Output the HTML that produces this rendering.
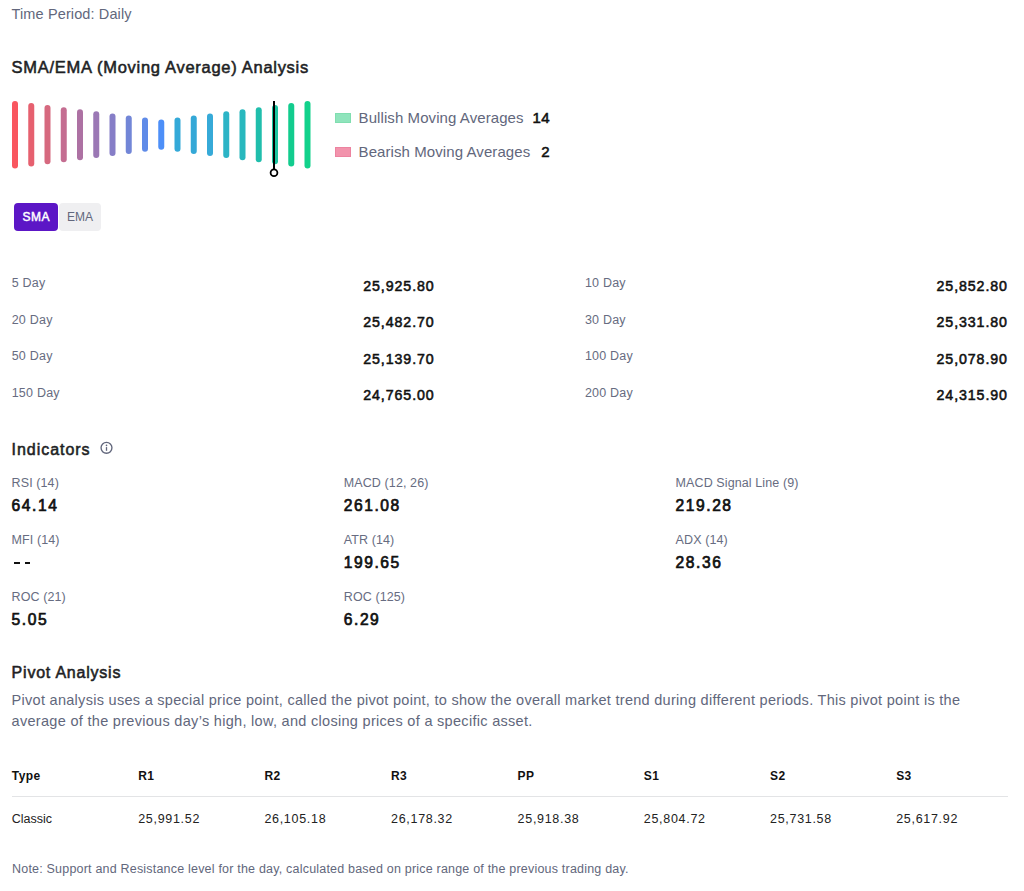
<!DOCTYPE html>
<html><head><meta charset="utf-8">
<style>
*{margin:0;padding:0;box-sizing:border-box}
html,body{width:1024px;height:891px;background:#fff;overflow:hidden}
body{position:relative;font-family:"Liberation Sans",sans-serif;color:#111}
.t{position:absolute;line-height:1;white-space:nowrap}
.sb{font-weight:400!important;-webkit-text-stroke:0.55px currentColor}
.g{color:#62677C}
.h{color:#1E1F25;font-weight:700}
.lbl{font-size:12.5px;color:#676C81;letter-spacing:0.22px}
.val{font-size:14.2px;font-weight:700;color:#111;letter-spacing:0.92px}
.il{font-size:12.5px;color:#676C81;letter-spacing:0.1px}
.iv{font-size:15.6px;font-weight:700;color:#111;letter-spacing:1.55px;-webkit-text-stroke:0.7px #111!important}
.th{font-size:12px;font-weight:700;color:#111;letter-spacing:0.4px}
.td{font-size:12.5px;color:#222;letter-spacing:0.7px}
</style></head><body>
<div class="t g" style="left:11.6px;top:7.13px;font-size:14.5px;letter-spacing:0.12px">Time Period: Daily</div>
<div class="t h sb" style="left:11.6px;top:58.83px;font-size:16.5px;letter-spacing:0.71px">SMA/EMA (Moving Average) Analysis</div>
<svg style="position:absolute;left:0;top:0" width="330" height="185" viewBox="0 0 330 185">
<g stroke-width="6" stroke-linecap="round">
<line x1="15.00" y1="103.90" x2="15.00" y2="165.50" stroke="#F9565F"/>
<line x1="31.25" y1="105.98" x2="31.25" y2="163.42" stroke="#E6606F"/>
<line x1="47.50" y1="108.06" x2="47.50" y2="161.34" stroke="#D6697F"/>
<line x1="63.75" y1="110.14" x2="63.75" y2="159.26" stroke="#C46D91"/>
<line x1="80.00" y1="112.22" x2="80.00" y2="157.18" stroke="#AD71A3"/>
<line x1="96.25" y1="114.30" x2="96.25" y2="155.10" stroke="#9B78B5"/>
<line x1="112.50" y1="116.38" x2="112.50" y2="153.02" stroke="#867EC7"/>
<line x1="128.75" y1="118.46" x2="128.75" y2="150.94" stroke="#7286D7"/>
<line x1="145.00" y1="120.54" x2="145.00" y2="148.86" stroke="#5F8BE8"/>
<line x1="161.25" y1="122.62" x2="161.25" y2="146.78" stroke="#4D8FF8"/>
<line x1="177.50" y1="120.54" x2="177.50" y2="148.86" stroke="#34A9D8"/>
<line x1="193.75" y1="118.46" x2="193.75" y2="150.94" stroke="#34A8D7"/>
<line x1="210.00" y1="116.38" x2="210.00" y2="153.02" stroke="#36AAD8"/>
<line x1="226.25" y1="114.30" x2="226.25" y2="155.10" stroke="#2CB4C6"/>
<line x1="242.50" y1="112.22" x2="242.50" y2="157.18" stroke="#28B8BE"/>
<line x1="258.75" y1="110.14" x2="258.75" y2="159.26" stroke="#20BEAC"/>
<line x1="275.00" y1="108.06" x2="275.00" y2="161.34" stroke="#1BC4A0"/>
<line x1="291.25" y1="105.98" x2="291.25" y2="163.42" stroke="#12CC8E"/>
<line x1="307.50" y1="103.90" x2="307.50" y2="165.50" stroke="#12D28B"/>

</g>
<line x1="274" y1="101" x2="274" y2="169" stroke="#000" stroke-width="2"/>
<circle cx="274" cy="172.7" r="3.4" fill="#fff" stroke="#000" stroke-width="1.8"/>
</svg>
<div style="position:absolute;left:335px;top:113px;width:16px;height:10px;background:#8FE4BC;border:1px solid #80DEB0"></div>
<div style="position:absolute;left:335px;top:147px;width:16px;height:10px;background:#F293AC;border:1px solid #EC83A0"></div>
<div class="t g" style="left:358.6px;top:110.1px;font-size:15px;letter-spacing:0.08px">Bullish Moving Averages</div>
<div class="t g" style="left:358.6px;top:143.6px;font-size:15px;letter-spacing:0.08px">Bearish Moving Averages</div>
<div class="t sb" style="right:474.2px;top:110.1px;font-size:15px;font-weight:700;color:#111;letter-spacing:0.3px">14</div>
<div class="t sb" style="right:474.2px;top:143.6px;font-size:15px;font-weight:700;color:#111;letter-spacing:0.3px">2</div>
<div style="position:absolute;left:14px;top:203px;width:44px;height:28.4px;border-radius:4px;background:#5C16C6;color:#fff;font-size:12px;font-weight:400;-webkit-text-stroke:0.45px #fff;line-height:28.4px;text-align:center;letter-spacing:0.55px;text-indent:0.55px">SMA</div>
<div style="position:absolute;left:59px;top:203px;width:42px;height:28.4px;border-radius:4px;background:#EFEFF1;color:#62677C;font-size:12px;line-height:28.4px;text-align:center">EMA</div>
<div class="t lbl" style="left:11.7px;top:276.62px">5 Day</div>
<div class="t val sb" style="right:589.38px;top:278.58px">25,925.80</div>
<div class="t lbl" style="left:584.9px;top:276.62px">10 Day</div>
<div class="t val sb" style="right:16.08px;top:278.58px">25,852.80</div>
<div class="t lbl" style="left:11.7px;top:313.82px">20 Day</div>
<div class="t val sb" style="right:589.38px;top:315.18px">25,482.70</div>
<div class="t lbl" style="left:584.9px;top:313.82px">30 Day</div>
<div class="t val sb" style="right:16.08px;top:315.18px">25,331.80</div>
<div class="t lbl" style="left:11.7px;top:350.02px">50 Day</div>
<div class="t val sb" style="right:589.38px;top:351.78px">25,139.70</div>
<div class="t lbl" style="left:584.9px;top:350.02px">100 Day</div>
<div class="t val sb" style="right:16.08px;top:351.78px">25,078.90</div>
<div class="t lbl" style="left:11.7px;top:386.62px">150 Day</div>
<div class="t val sb" style="right:589.38px;top:388.38px">24,765.00</div>
<div class="t lbl" style="left:584.9px;top:386.62px">200 Day</div>
<div class="t val sb" style="right:16.08px;top:388.38px">24,315.90</div>
<div class="t h sb" style="left:11.6px;top:441.56px;font-size:16px;letter-spacing:0.95px">Indicators</div>
<svg style="position:absolute;left:100px;top:441px" width="13" height="14" viewBox="0 0 13 14"><circle cx="6.5" cy="6.8" r="5.45" fill="none" stroke="#62677C" stroke-width="1.35"/><line x1="6.5" y1="6.1" x2="6.5" y2="9.8" stroke="#62677C" stroke-width="1.3"/><circle cx="6.5" cy="4.4" r="0.8" fill="#62677C"/></svg>
<div class="t il" style="left:11.6px;top:476.62px">RSI (14)</div>
<div class="t iv sb" style="left:11.6px;top:498.19px">64.14</div>
<div class="t il" style="left:343.8px;top:476.62px">MACD (12, 26)</div>
<div class="t iv sb" style="left:343.8px;top:498.19px">261.08</div>
<div class="t il" style="left:675.6px;top:476.62px">MACD Signal Line (9)</div>
<div class="t iv sb" style="left:675.6px;top:498.19px">219.28</div>
<div class="t il" style="left:11.6px;top:534.02px">MFI (14)</div>
<div style="position:absolute;left:14.2px;top:562.3px;width:5.6px;height:1.6px;background:#111"></div><div style="position:absolute;left:24.9px;top:562.3px;width:5.4px;height:1.6px;background:#111"></div>
<div class="t il" style="left:343.8px;top:534.02px">ATR (14)</div>
<div class="t iv sb" style="left:343.8px;top:555.19px">199.65</div>
<div class="t il" style="left:675.6px;top:534.02px">ADX (14)</div>
<div class="t iv sb" style="left:675.6px;top:555.19px">28.36</div>
<div class="t il" style="left:11.6px;top:590.62px">ROC (21)</div>
<div class="t iv sb" style="left:11.6px;top:611.89px">5.05</div>
<div class="t il" style="left:343.8px;top:590.62px">ROC (125)</div>
<div class="t iv sb" style="left:343.8px;top:611.89px">6.29</div>
<div class="t h sb" style="left:11.6px;top:665.06px;font-size:16px;letter-spacing:0.78px">Pivot Analysis</div>
<div class="t g" style="left:11.6px;top:693.23px;font-size:14.5px;letter-spacing:0.285px">Pivot analysis uses a special price point, called the pivot point, to show the overall market trend during different periods. This pivot point is the</div>
<div class="t g" style="left:11.6px;top:713.53px;font-size:14.5px;letter-spacing:0.3px">average of the previous day’s high, low, and closing prices of a specific asset.</div>
<div class="t th" style="left:11.8px;top:769.64px">Type</div>
<div class="t td" style="left:11.8px;top:813.02px;letter-spacing:0">Classic</div>
<div class="t th" style="left:138.2px;top:769.64px">R1</div>
<div class="t td" style="left:138.2px;top:813.02px;">25,991.52</div>
<div class="t th" style="left:264.4px;top:769.64px">R2</div>
<div class="t td" style="left:264.4px;top:813.02px;">26,105.18</div>
<div class="t th" style="left:391.0px;top:769.64px">R3</div>
<div class="t td" style="left:391.0px;top:813.02px;">26,178.32</div>
<div class="t th" style="left:517.6px;top:769.64px">PP</div>
<div class="t td" style="left:517.6px;top:813.02px;">25,918.38</div>
<div class="t th" style="left:643.8px;top:769.64px">S1</div>
<div class="t td" style="left:643.8px;top:813.02px;">25,804.72</div>
<div class="t th" style="left:770.0px;top:769.64px">S2</div>
<div class="t td" style="left:770.0px;top:813.02px;">25,731.58</div>
<div class="t th" style="left:896.2px;top:769.64px">S3</div>
<div class="t td" style="left:896.2px;top:813.02px;">25,617.92</div>
<div style="position:absolute;left:12px;top:796px;width:996px;height:1px;background:#E3E4E6"></div>
<div class="t g" style="left:12px;top:863.22px;font-size:12.5px;letter-spacing:0.2px">Note: Support and Resistance level for the day, calculated based on price range of the previous trading day.</div>
</body></html>
